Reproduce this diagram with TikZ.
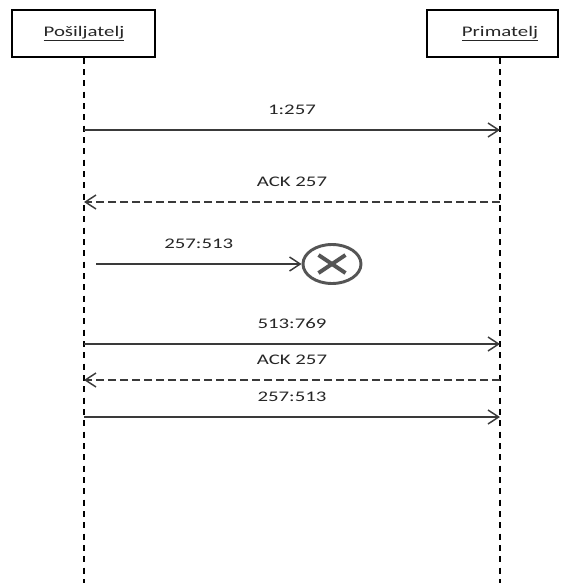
\documentclass[tikz,border=0pt]{standalone}
\usepackage{fontspec}
\setmainfont{Carlito}
\usetikzlibrary{arrows.meta, shapes.geometric}

\definecolor{msggray}{HTML}{3A3A3A}
\definecolor{lostgray}{HTML}{555555}

\tikzset{
    actor/.style={draw, line width=1.1pt, minimum height=47*0.75pt, inner sep=0pt},
    lbl/.style={font=\fontsize{11}{13}\selectfont, xscale=1.42, text=black!85},
    lifeline/.style={line width=0.9pt, dash pattern=on 4.5pt off 4pt},
    msg/.style={draw=msggray, line width=1.1pt, -{Straight Barb[length=8pt, width=10.5pt]}},
    reply/.style={msg, dash pattern=on 6pt off 3pt},
    msglbl/.style={lbl, midway, anchor=base, yshift=11.5pt}
}

\begin{document}
\begin{tikzpicture}[x=0.75pt, y=-0.75pt]
    \useasboundingbox (0, 0) rectangle (561, 583);

    % sudionici
    \node [actor, minimum width=143*0.75pt] (senderBox) at (83.5, 33.5) {};
    \node [lbl] (sender) at (84, 33.5) {\underline{Pošiljatelj}};
    \node [actor, minimum width=131*0.75pt] (receiverBox) at (492.5, 33.5) {};
    \node [lbl] (receiver) at (500, 33.5) {\underline{Primatelj}};

    \coordinate (senderEnd) at (84, 583);
    \coordinate (receiverEnd) at (500, 583);
    \draw [lifeline] (sender |- senderBox.south) -- (senderEnd);
    \draw [lifeline] (receiver |- receiverBox.south) -- (receiverEnd);

    % poruke
    \foreach \y/\name in {130/a, 202/b, 344/c, 380/d, 417/e}
    {
        \coordinate (s\name) at (84, \y);
        \coordinate (r\name) at (500, \y);
    }

    \draw [msg] (sa) -- (ra) node [msglbl] {1:257};
    \draw [reply] (rb) -- (sb) node [msglbl] {ACK 257};

    % izgubljeni segment
    \node [ellipse, draw=lostgray, line width=2.2pt, minimum width=58*0.75pt,
           minimum height=39*0.75pt] (lost) at (332, 264) {};
    \draw [lostgray, line width=3pt] (318.5, 255) -- (345.5, 273);
    \draw [lostgray, line width=3pt] (318.5, 273) -- (345.5, 255);
    \coordinate (lostStart) at (96, 264);
    \draw [msg] (lostStart) -- (lost.west) node [msglbl] {257:513};

    \draw [msg] (sc) -- (rc) node [msglbl] {513:769};
    \draw [reply] (rd) -- (sd) node [msglbl] {ACK 257};
    \draw [msg] (se) -- (re) node [msglbl] {257:513};

\end{tikzpicture}
\end{document}
